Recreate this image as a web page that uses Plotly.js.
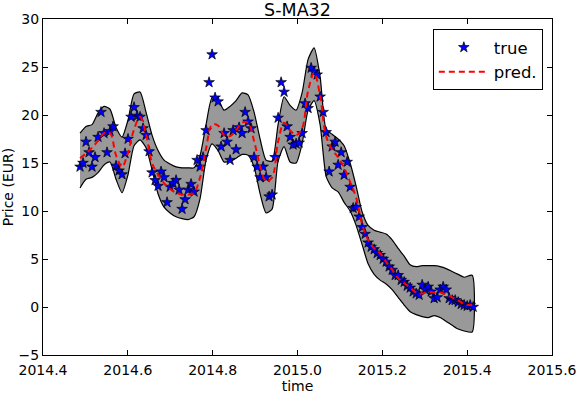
<!DOCTYPE html>
<html>
<head>
<meta charset="utf-8">
<script src="https://cdn.plot.ly/plotly-3.0.1.min.js"></script>
<style>
  body { margin: 0; background: #fff; }
  #plot { width: 578px; height: 398px; }
</style>
</head>
<body>
<div id="plot"></div>
<script>
// time grid of the smooth curves (pred. and band)
let bandT = [2014.4873, 2014.5014, 2014.5156, 2014.5297, 2014.5439, 2014.5580, 2014.5722, 2014.5863,
    2014.6005, 2014.6146, 2014.6288, 2014.6429, 2014.6571, 2014.6712, 2014.6854, 2014.6995,
    2014.7137, 2014.7278, 2014.7420, 2014.7561, 2014.7703, 2014.7844, 2014.7986, 2014.8127,
    2014.8269, 2014.8410, 2014.8552, 2014.8693, 2014.8835, 2014.8976, 2014.9118, 2014.9259,
    2014.9401, 2014.9542, 2014.9684, 2014.9825, 2014.9967, 2015.0108, 2015.0250, 2015.0392,
    2015.0533, 2015.0675, 2015.0816, 2015.0958, 2015.1099, 2015.1241, 2015.1382, 2015.1524,
    2015.1665, 2015.1807, 2015.1948, 2015.2090, 2015.2231, 2015.2373, 2015.2514, 2015.2656,
    2015.2797, 2015.2939, 2015.3080, 2015.3222, 2015.3363, 2015.3505, 2015.3646, 2015.3788,
    2015.3929, 2015.4118];

// predicted price
let predV = [15.5, 16.0, 16.6, 17.3, 18.1, 18.1, 15.8, 14.6, 16.1, 18.5, 19.8, 18.0, 15.0, 13.8, 12.9, 12.3,
    11.9, 11.7, 11.7, 11.9, 13.5, 16.5, 19.0, 18.9, 17.9, 17.8, 18.4, 19.2, 19.2, 17.3, 14.7, 13.1,
    13.5, 17.2, 19.2, 18.4, 17.9, 18.6, 22.5, 24.4, 22.0, 17.8, 16.4, 15.6, 14.5, 13.0, 11.4, 8.6,
    7.0, 6.1, 5.6, 4.7, 3.9, 3.0, 2.5, 2.0, 1.5, 1.4, 1.6, 1.5, 1.5, 1.3, 1.0, 0.7,
    0.3, 0.2];

// confidence band
let upperV = [18.1, 18.8, 19.0, 20.2, 20.9, 20.6, 18.7, 17.7, 19.5, 22.2, 22.4, 20.3, 17.9, 16.3, 15.3, 14.9,
    14.6, 14.5, 14.5, 14.5, 15.8, 19.0, 21.8, 21.6, 20.5, 20.9, 21.5, 22.3, 22.1, 20.3, 17.5, 15.3,
    15.2, 19.0, 21.9, 21.0, 20.5, 22.3, 25.8, 27.0, 24.0, 18.5, 18.0, 17.5, 16.8, 15.0, 12.6, 9.9,
    8.5, 8.0, 7.8, 7.6, 7.0, 6.1, 5.3, 4.4, 4.2, 4.3, 4.3, 4.3, 4.2, 4.0, 3.7, 3.4,
    3.1, 3.3];
let lowerV = [12.4, 13.3, 13.5, 14.0, 14.8, 15.1, 13.3, 11.9, 13.8, 16.8, 17.4, 16.6, 14.3, 11.8, 10.4, 9.8,
    9.4, 9.2, 9.1, 9.4, 11.3, 15.3, 17.0, 16.3, 15.1, 15.2, 15.5, 15.9, 15.8, 14.6, 11.8, 9.8,
    10.2, 15.2, 16.7, 15.1, 15.0, 17.0, 20.5, 21.5, 19.0, 13.6, 12.4, 12.0, 10.9, 10.0, 8.5, 6.5,
    4.5, 3.4, 2.8, 2.4, 1.8, 1.0, 0.2, -0.5, -0.8, -1.0, -1.1, -0.9, -1.1, -1.5, -1.9, -2.3,
    -2.5, -2.6];

// observed price (one value per trading step)
let trueStart = 2014.4873;
let trueStep = 0.0070755;
let trueV = [14.6, 15.0, 17.2, 16.1, 14.6, 15.6, 17.7, 20.3, 18.1, 16.1, 18.3, 18.8, 14.7, 14.2, 13.8, 16.0,
    17.5, 19.8, 20.8, 19.9, 19.8, 18.6, 17.9, 16.2, 14.0, 13.2, 12.6, 14.1, 13.5, 10.9, 12.5, 12.9,
    13.2, 12.2, 10.2, 11.2, 12.2, 12.8, 12.0, 15.3, 14.6, 15.6, 18.4, 23.4, 26.3, 21.8, 21.4, 16.7,
    18.1, 17.2, 15.3, 18.4, 16.4, 18.7, 18.1, 20.3, 19.3, 18.6, 15.6, 14.6, 13.5, 14.6, 13.5, 11.5,
    11.7, 15.6, 19.7, 23.4, 22.4, 18.8, 17.7, 16.9, 17.0, 17.1, 18.1, 21.2, 20.7, 24.9, 24.5, 24.2,
    21.9, 20.3, 18.2, 14.1, 16.7, 17.2, 14.8, 16.1, 13.75, 15.1, 12.5, 10.3, 10.4, 9.4, 8.3, 7.6,
    6.7, 6.25, 6.0, 5.6, 5.4, 5.0, 4.7, 4.2, 3.85, 3.3, 3.3, 2.8, 2.6, 2.2, 2.0, 1.6,
    1.4, 1.25, 2.3, 1.8, 2.1, 1.6, 0.9, 1.0, 1.8, 2.1, 1.8, 0.9, 0.7, 0.7, 0.5, 0.3,
    0.2, 0.1, 0.2, 0.0];

let trueT = [];
for (let i = 0; i < trueV.length; i++) {
    trueT.push(trueStart + i * trueStep);
}

// closed outline of the band
let bandX = bandT.concat(bandT.slice().reverse());
let bandY = upperV.concat(lowerV.slice().reverse());

let band = {
    x: bandX,
    y: bandY,
    mode: 'lines',
    fill: 'toself',
    fillcolor: '#999999',
    line: {color: 'black', width: 1.2, shape: 'spline', smoothing: 0.6},
    showlegend: false,
    hoverinfo: 'skip'
};

let trueTrace = {
    x: trueT,
    y: trueV,
    mode: 'markers',
    name: 'true',
    marker: {symbol: 'star', size: 8, color: '#0000ff', line: {color: 'black', width: 0.7}}
};

let predTrace = {
    x: bandT,
    y: predV,
    mode: 'lines',
    name: 'pred.',
    line: {color: 'red', width: 2, dash: '6px,4px', shape: 'spline'}
};

let axisStyle = {
    showline: true,
    linecolor: 'black',
    linewidth: 1,
    mirror: 'ticks',
    ticks: 'inside',
    ticklen: 5,
    tickcolor: 'black',
    showgrid: false,
    zeroline: false,
    tickfont: {family: 'DejaVu Sans', size: 14, color: 'black'}
};

let layout = {
    width: 578,
    height: 398,
    margin: {l: 43, r: 26, t: 19, b: 43},
    paper_bgcolor: 'white',
    plot_bgcolor: 'white',
    font: {family: 'DejaVu Sans', color: 'black'},
    title: {text: 'S-MA32', font: {size: 17.5}, x: 0.5, xref: 'paper', y: 0.976, yref: 'container', yanchor: 'middle'},
    xaxis: Object.assign({}, axisStyle, {
        range: [2014.4, 2015.6],
        dtick: 0.2,
        tick0: 2014.4,
        tickformat: '.1f',
        ticklabelstandoff: 2,
        title: {text: 'time', font: {size: 14}, standoff: 4}
    }),
    yaxis: Object.assign({}, axisStyle, {
        range: [-5, 30],
        dtick: 5,
        ticklabelstandoff: 0,
        title: {text: 'Price (EUR)', font: {size: 14}, standoff: 2}
    }),
    legend: {
        x: 0.982, y: 0.97, xanchor: 'right', yanchor: 'top',
        bordercolor: 'black', borderwidth: 1, bgcolor: 'white',
        font: {size: 16.5},
        itemwidth: 50
    },
    showlegend: true
};

Plotly.newPlot('plot', [band, trueTrace, predTrace], layout, {staticPlot: true});
</script>
</body>
</html>
